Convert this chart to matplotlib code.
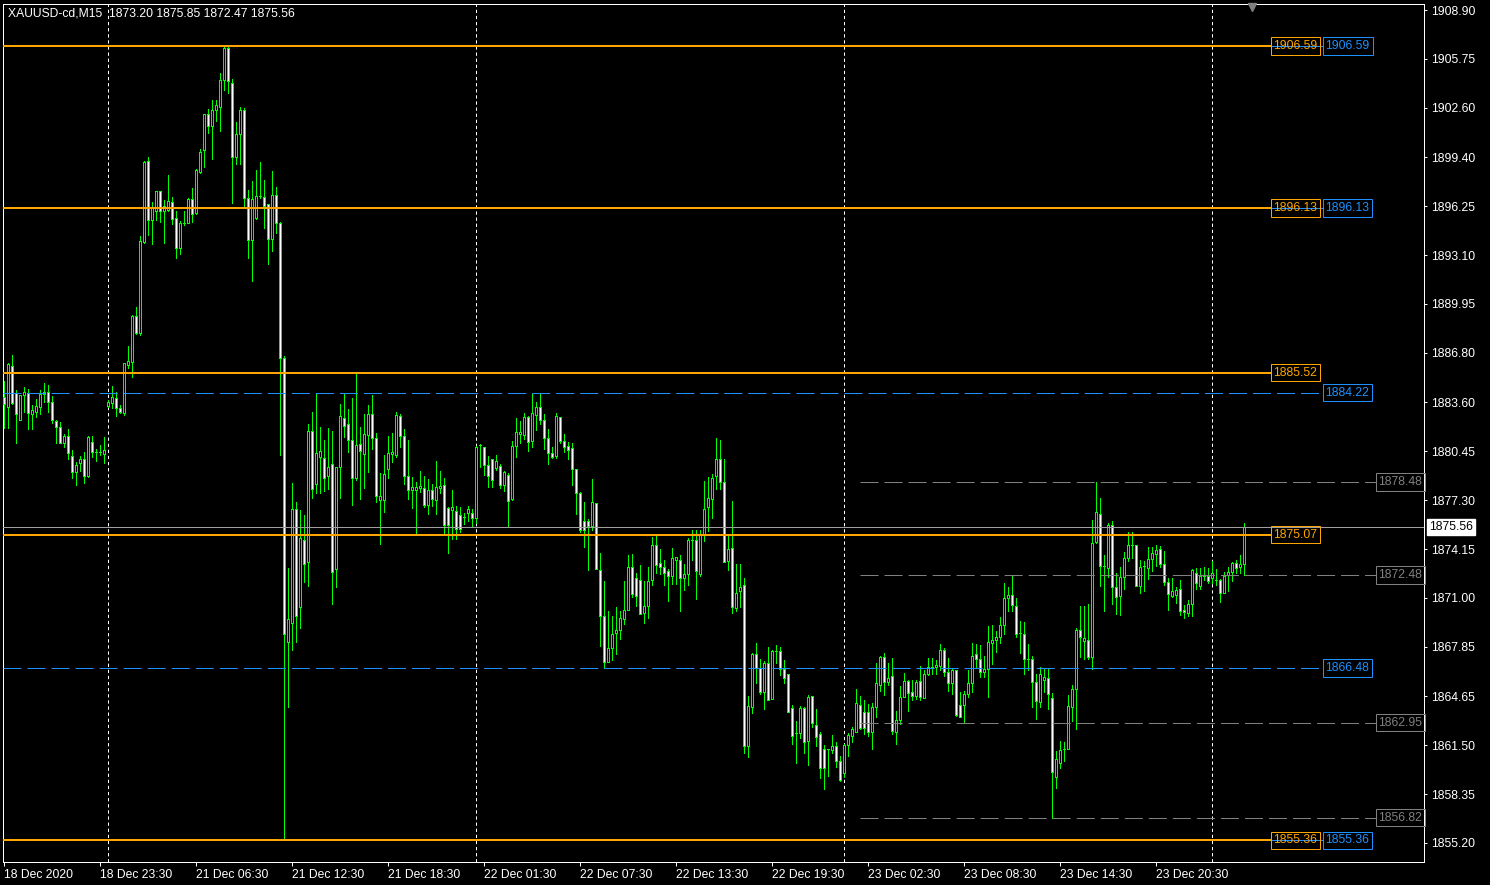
import matplotlib
matplotlib.use("Agg")
import matplotlib.pyplot as plt
from matplotlib import transforms

plt.rcParams['font.family'] = ['Liberation Sans', 'DejaVu Sans']
plt.rcParams['lines.scale_dashes'] = False

symbol = "XAUUSD-cd"
period = "M15"

# M15 bars (bar 0 = 18 Dec 2020 17:30)
opens = [
    1883.96, 1883.32, 1885.94, 1884.18, 1882.50, 1884.05, 1884.22, 1882.85, 1883.00, 1883.32,
    1884.12, 1884.25, 1883.64, 1882.41, 1881.99, 1880.99, 1881.43, 1880.14, 1879.13, 1879.67,
    1879.93, 1878.85, 1881.04, 1880.38, 1880.38, 1880.27, 1883.38, 1883.58, 1883.86, 1883.25,
    1882.93, 1886.01, 1886.22, 1889.17, 1888.09, 1893.94, 1899.15, 1895.34, 1895.94, 1897.23,
    1895.94, 1895.98, 1896.50, 1895.47, 1893.57, 1895.19, 1895.17, 1896.71, 1895.79, 1898.46,
    1899.86, 1902.18, 1901.44, 1902.46, 1902.67, 1904.37, 1906.45, 1904.18, 1899.40, 1900.89,
    1902.44, 1896.76, 1894.05, 1895.47, 1896.89, 1896.82, 1896.37, 1894.15, 1896.97, 1895.19,
    1886.44, 1868.16, 1869.41, 1876.76, 1870.38, 1874.70, 1873.32, 1881.75, 1878.37, 1880.09,
    1879.99, 1878.87, 1879.60, 1872.83, 1879.41, 1882.57, 1882.18, 1881.15, 1878.70, 1880.89,
    1880.29, 1881.47, 1882.85, 1881.28, 1877.28, 1877.28, 1879.28, 1880.29, 1880.22, 1882.70,
    1881.41, 1878.83, 1877.93, 1877.93, 1878.09, 1878.09, 1877.00, 1877.95, 1877.28, 1878.09,
    1878.25, 1876.80, 1876.67, 1876.59, 1876.33, 1876.22, 1876.44, 1876.46, 1876.18, 1880.83,
    1880.70, 1879.58, 1879.93, 1879.39, 1879.49, 1878.29, 1878.89, 1877.36, 1880.76, 1881.54,
    1881.47, 1882.65, 1881.12, 1882.78, 1883.28, 1882.44, 1881.28, 1880.31, 1880.12, 1882.63,
    1881.12, 1880.79, 1880.64, 1879.29, 1877.74, 1875.94, 1875.94, 1875.66, 1877.12, 1872.79,
    1869.82, 1866.89, 1867.75, 1868.71, 1868.91, 1869.61, 1870.19, 1872.96, 1872.31, 1872.18,
    1870.03, 1870.48, 1872.16, 1874.38, 1873.28, 1872.96, 1872.72, 1872.42, 1873.45, 1873.47,
    1872.29, 1872.57, 1874.72, 1874.76, 1872.57, 1875.15, 1876.87, 1877.38, 1878.83, 1879.93,
    1878.48, 1873.38, 1874.24, 1870.35, 1871.45, 1871.86, 1861.45, 1863.96, 1867.36, 1866.50,
    1864.93, 1866.83, 1864.48, 1867.56, 1867.56, 1866.44, 1866.12, 1863.87, 1862.27, 1862.31,
    1863.87, 1861.78, 1864.70, 1862.83, 1862.21, 1861.28, 1861.28, 1861.22, 1861.45, 1860.51,
    1859.71, 1861.50, 1862.10, 1862.35, 1864.12, 1863.61, 1863.65, 1862.32, 1863.94, 1865.37,
    1867.19, 1865.58, 1865.95, 1862.35, 1863.15, 1864.62, 1865.63, 1864.94, 1864.68, 1865.63,
    1864.55, 1866.12, 1866.57, 1866.55, 1866.59, 1867.67, 1866.23, 1865.52, 1866.33, 1864.08,
    1864.08, 1864.83, 1865.48, 1867.41, 1867.09, 1866.23, 1866.40, 1868.06, 1868.26, 1868.45,
    1869.22, 1870.96, 1871.18, 1870.45, 1868.75, 1868.70, 1867.03, 1867.09, 1865.58, 1864.30,
    1865.71, 1865.86, 1864.53, 1859.48, 1860.34, 1861.24, 1861.28, 1863.96, 1865.13, 1868.91,
    1868.24, 1868.26, 1867.17, 1874.62, 1876.38, 1873.06, 1872.95, 1875.68, 1871.68, 1871.14,
    1872.37, 1873.56, 1874.39, 1874.39, 1871.78, 1873.04, 1872.94, 1873.48, 1873.81, 1874.13,
    1873.20, 1872.00, 1871.14, 1871.17, 1871.56, 1870.23, 1870.04, 1870.59, 1872.62, 1871.78,
    1872.41, 1872.41, 1872.25, 1872.14, 1872.12, 1871.32, 1872.47, 1872.68, 1873.22, 1873.00,
    1873.20,
]
highs = [
    1884.98, 1886.15, 1886.65, 1884.39, 1884.10, 1884.59, 1884.44, 1883.43, 1883.79, 1884.39,
    1884.85, 1884.72, 1884.01, 1882.50, 1882.33, 1881.56, 1881.88, 1880.53, 1879.77, 1880.14,
    1880.41, 1881.43, 1881.43, 1880.63, 1880.85, 1881.36, 1883.75, 1884.65, 1884.29, 1883.43,
    1886.16, 1887.23, 1889.21, 1889.77, 1894.33, 1899.17, 1899.42, 1896.52, 1897.23, 1897.23,
    1896.65, 1898.26, 1896.84, 1895.94, 1895.30, 1895.94, 1896.78, 1897.42, 1898.65, 1899.94,
    1902.20, 1902.52, 1903.10, 1903.10, 1904.84, 1906.59, 1906.50, 1904.44, 1901.68, 1902.65,
    1902.57, 1897.30, 1897.87, 1898.58, 1899.10, 1897.94, 1896.37, 1898.52, 1897.49, 1895.23,
    1886.59, 1872.90, 1878.38, 1877.15, 1876.66, 1876.33, 1882.20, 1882.98, 1884.18, 1882.00,
    1881.17, 1881.93, 1881.75, 1879.43, 1883.49, 1884.18, 1883.17, 1883.88, 1885.47, 1882.00,
    1882.85, 1883.43, 1884.07, 1881.60, 1879.04, 1880.20, 1881.43, 1881.62, 1882.98, 1882.85,
    1881.88, 1881.17, 1878.80, 1878.50, 1879.17, 1878.85, 1878.65, 1878.33, 1879.82, 1879.17,
    1878.74, 1876.87, 1877.95, 1876.93, 1876.87, 1876.44, 1876.91, 1876.70, 1880.80, 1880.91,
    1880.70, 1880.14, 1879.93, 1880.18, 1879.60, 1879.17, 1879.02, 1881.10, 1882.59, 1882.40,
    1882.91, 1882.72, 1884.18, 1883.62, 1884.18, 1882.83, 1881.92, 1880.74, 1882.89, 1882.63,
    1881.56, 1881.05, 1880.96, 1879.29, 1877.83, 1877.17, 1876.08, 1878.67, 1877.12, 1873.90,
    1872.06, 1870.14, 1869.82, 1870.39, 1870.14, 1872.08, 1873.75, 1873.81, 1872.59, 1873.11,
    1872.08, 1872.98, 1874.94, 1874.99, 1874.13, 1873.47, 1872.87, 1874.22, 1873.62, 1873.75,
    1873.17, 1874.87, 1875.37, 1875.37, 1875.37, 1878.52, 1878.78, 1878.98, 1881.30, 1881.15,
    1879.93, 1875.15, 1877.24, 1873.17, 1873.21, 1872.25, 1864.65, 1867.43, 1868.07, 1867.04,
    1866.93, 1867.82, 1867.62, 1867.95, 1867.82, 1866.99, 1866.12, 1864.08, 1863.04, 1864.06,
    1863.97, 1864.72, 1864.70, 1863.84, 1862.34, 1861.50, 1861.28, 1862.14, 1861.71, 1860.81,
    1861.61, 1862.31, 1862.68, 1865.11, 1864.66, 1864.40, 1864.14, 1864.23, 1866.77, 1867.25,
    1867.43, 1866.80, 1867.11, 1863.68, 1865.30, 1866.15, 1865.69, 1865.69, 1865.69, 1866.61,
    1866.33, 1867.11, 1867.11, 1866.98, 1868.01, 1867.80, 1867.11, 1866.44, 1866.33, 1864.92,
    1864.98, 1866.33, 1868.12, 1868.01, 1867.95, 1867.24, 1869.17, 1869.23, 1868.85, 1869.76,
    1871.99, 1871.71, 1872.40, 1870.96, 1869.52, 1869.42, 1868.01, 1867.24, 1866.12, 1866.53,
    1866.40, 1866.40, 1864.85, 1861.13, 1861.77, 1861.71, 1864.74, 1865.37, 1869.04, 1870.46,
    1870.46, 1870.59, 1876.02, 1878.48, 1877.43, 1873.77, 1875.85, 1875.96, 1872.59, 1872.99,
    1873.96, 1875.25, 1875.25, 1874.39, 1873.43, 1873.38, 1874.27, 1874.25, 1874.39, 1874.35,
    1874.00, 1872.29, 1872.29, 1871.71, 1872.16, 1870.54, 1870.86, 1872.88, 1872.94, 1872.94,
    1872.99, 1872.94, 1873.37, 1872.83, 1872.20, 1872.68, 1873.00, 1873.31, 1873.43, 1873.75,
    1875.85,
]
lows = [
    1881.96, 1881.96, 1883.49, 1881.00, 1882.46, 1883.00, 1881.90, 1881.90, 1882.68, 1882.85,
    1883.64, 1883.00, 1882.29, 1880.96, 1880.96, 1880.74, 1879.93, 1878.74, 1878.29, 1879.19,
    1878.42, 1878.80, 1880.09, 1879.83, 1880.20, 1879.71, 1883.32, 1883.22, 1882.72, 1882.89,
    1882.78, 1885.79, 1885.25, 1888.00, 1887.94, 1893.88, 1894.39, 1893.83, 1895.36, 1895.25,
    1893.90, 1895.94, 1895.13, 1892.93, 1893.19, 1895.02, 1895.17, 1895.21, 1895.75, 1898.39,
    1898.78, 1900.99, 1899.31, 1901.75, 1901.12, 1903.74, 1903.57, 1896.48, 1898.99, 1898.95,
    1896.22, 1892.93, 1891.44, 1895.45, 1896.76, 1894.86, 1892.54, 1893.38, 1894.54, 1880.20,
    1855.36, 1863.97, 1867.67, 1868.16, 1869.07, 1872.03, 1871.77, 1877.45, 1877.77, 1877.77,
    1877.90, 1878.03, 1870.62, 1871.70, 1877.45, 1881.34, 1880.42, 1877.00, 1878.59, 1877.38,
    1878.09, 1879.13, 1880.61, 1877.19, 1874.48, 1876.55, 1878.74, 1879.73, 1880.09, 1880.70,
    1878.35, 1877.38, 1876.80, 1875.13, 1877.84, 1876.85, 1876.38, 1876.93, 1876.41, 1877.77,
    1875.13, 1873.90, 1874.80, 1874.80, 1875.26, 1875.75, 1875.97, 1875.64, 1875.80, 1879.45,
    1878.91, 1878.16, 1878.12, 1879.24, 1878.07, 1877.88, 1875.64, 1877.30, 1880.09, 1880.99,
    1881.23, 1880.48, 1880.74, 1881.84, 1882.22, 1880.61, 1879.64, 1880.03, 1880.05, 1880.96,
    1880.43, 1879.98, 1878.29, 1876.42, 1875.27, 1874.30, 1872.80, 1875.37, 1872.89, 1867.90,
    1866.46, 1866.89, 1866.99, 1867.38, 1868.35, 1869.32, 1870.19, 1871.06, 1870.46, 1869.96,
    1869.35, 1869.71, 1871.82, 1872.59, 1872.53, 1871.82, 1870.82, 1871.90, 1871.90, 1870.14,
    1871.49, 1871.84, 1873.47, 1870.91, 1872.42, 1874.66, 1875.32, 1876.16, 1878.05, 1878.01,
    1873.32, 1872.79, 1870.03, 1870.14, 1870.42, 1861.00, 1860.74, 1863.59, 1865.48, 1864.83,
    1863.82, 1864.44, 1864.48, 1866.77, 1866.02, 1865.54, 1863.65, 1861.58, 1860.35, 1861.94,
    1861.00, 1860.23, 1862.68, 1861.48, 1859.39, 1858.68, 1859.52, 1861.00, 1860.10, 1859.19,
    1859.45, 1860.81, 1861.71, 1862.33, 1862.53, 1862.25, 1862.10, 1861.24, 1863.32, 1864.99,
    1864.72, 1865.37, 1862.21, 1861.58, 1862.86, 1864.59, 1863.69, 1864.42, 1864.51, 1864.42,
    1864.53, 1866.01, 1866.12, 1866.12, 1866.35, 1865.95, 1865.00, 1864.83, 1863.40, 1863.33,
    1862.95, 1864.62, 1864.93, 1866.55, 1865.90, 1865.90, 1864.62, 1866.74, 1867.52, 1868.10,
    1868.66, 1870.16, 1870.16, 1868.49, 1867.46, 1866.12, 1866.33, 1863.95, 1863.20, 1863.95,
    1864.96, 1863.82, 1856.82, 1858.75, 1860.06, 1860.48, 1861.28, 1863.08, 1862.53, 1867.21,
    1867.06, 1867.06, 1866.44, 1874.52, 1871.78, 1870.16, 1872.37, 1870.61, 1869.96, 1869.90,
    1871.58, 1873.39, 1873.54, 1871.78, 1871.32, 1871.45, 1872.22, 1872.74, 1873.04, 1873.00,
    1871.86, 1870.21, 1871.08, 1870.69, 1869.90, 1869.72, 1869.85, 1869.83, 1871.58, 1871.58,
    1872.14, 1871.97, 1871.93, 1871.82, 1870.74, 1871.30, 1871.45, 1872.10, 1872.62, 1872.58,
    1872.47,
]
closes = [
    1883.49, 1886.07, 1883.54, 1882.85, 1884.07, 1884.25, 1882.89, 1883.11, 1883.36, 1884.14,
    1884.25, 1883.60, 1882.50, 1881.99, 1880.99, 1881.43, 1880.31, 1879.13, 1879.56, 1879.93,
    1878.85, 1881.34, 1880.42, 1880.38, 1880.38, 1880.53, 1883.62, 1883.96, 1883.25, 1883.00,
    1886.12, 1886.29, 1889.17, 1888.09, 1894.00, 1899.08, 1895.34, 1896.22, 1897.23, 1895.94,
    1896.26, 1896.58, 1895.40, 1893.54, 1895.17, 1895.19, 1896.71, 1895.75, 1898.59, 1899.73,
    1902.18, 1901.44, 1902.44, 1902.76, 1904.37, 1906.45, 1904.33, 1899.40, 1900.89, 1902.44,
    1896.76, 1894.05, 1896.71, 1896.89, 1896.89, 1896.28, 1894.12, 1896.97, 1895.19, 1886.44,
    1868.64, 1869.61, 1876.76, 1869.84, 1874.83, 1873.21, 1881.75, 1878.05, 1880.31, 1880.44,
    1878.70, 1879.41, 1872.70, 1879.41, 1882.72, 1882.05, 1881.15, 1878.70, 1880.83, 1880.44,
    1881.54, 1882.85, 1881.28, 1877.60, 1877.60, 1878.96, 1880.31, 1880.38, 1882.76, 1881.41,
    1878.83, 1877.93, 1878.14, 1878.18, 1878.20, 1877.00, 1877.95, 1877.38, 1878.14, 1878.22,
    1875.73, 1875.73, 1876.85, 1875.47, 1875.47, 1876.22, 1876.76, 1876.16, 1880.74, 1880.83,
    1879.54, 1878.85, 1878.59, 1879.80, 1878.29, 1879.11, 1877.25, 1880.76, 1881.67, 1881.71,
    1882.65, 1881.06, 1882.91, 1883.28, 1882.44, 1881.28, 1880.31, 1880.09, 1882.70, 1881.12,
    1880.74, 1880.55, 1879.29, 1877.74, 1875.40, 1875.40, 1875.66, 1877.17, 1872.89, 1869.80,
    1866.89, 1867.75, 1868.65, 1868.91, 1869.68, 1870.21, 1873.02, 1871.28, 1871.15, 1869.96,
    1870.46, 1872.08, 1874.38, 1873.15, 1872.96, 1872.61, 1872.42, 1873.60, 1873.62, 1872.29,
    1872.57, 1874.72, 1874.72, 1872.74, 1875.15, 1876.70, 1877.41, 1878.76, 1879.93, 1878.44,
    1873.32, 1874.18, 1870.41, 1871.34, 1871.73, 1861.45, 1864.05, 1867.36, 1866.50, 1864.93,
    1866.80, 1864.44, 1867.58, 1867.56, 1866.44, 1865.86, 1863.65, 1862.10, 1862.27, 1863.87,
    1861.71, 1864.64, 1862.96, 1862.03, 1860.00, 1860.00, 1861.28, 1861.45, 1860.48, 1859.26,
    1861.51, 1862.14, 1862.57, 1864.25, 1862.64, 1862.64, 1862.32, 1863.94, 1865.48, 1867.19,
    1865.58, 1865.86, 1862.42, 1863.15, 1864.64, 1865.63, 1864.88, 1864.68, 1865.56, 1864.62,
    1866.12, 1866.55, 1866.57, 1866.66, 1867.67, 1866.23, 1865.52, 1866.33, 1863.45, 1863.33,
    1864.83, 1865.54, 1867.24, 1867.07, 1866.23, 1866.40, 1868.16, 1868.26, 1868.45, 1869.22,
    1870.96, 1871.18, 1870.53, 1868.66, 1868.75, 1867.03, 1867.03, 1865.58, 1864.36, 1866.06,
    1865.93, 1864.83, 1859.76, 1860.60, 1861.17, 1861.24, 1864.03, 1865.11, 1868.91, 1868.50,
    1868.40, 1867.21, 1874.52, 1876.51, 1873.07, 1873.06, 1875.68, 1871.68, 1871.08, 1872.37,
    1873.56, 1874.41, 1874.39, 1871.78, 1872.96, 1873.04, 1873.48, 1873.87, 1874.06, 1873.20,
    1872.03, 1871.28, 1871.47, 1871.49, 1870.18, 1870.11, 1870.59, 1872.79, 1871.94, 1872.41,
    1872.41, 1872.08, 1872.62, 1872.14, 1871.32, 1872.41, 1872.68, 1873.22, 1872.94, 1873.20,
    1875.56,
]

time_labels = ["18 Dec 2020", "18 Dec 23:30", "21 Dec 06:30", "21 Dec 12:30", "21 Dec 18:30",
               "22 Dec 01:30", "22 Dec 07:30", "22 Dec 13:30", "22 Dec 19:30", "23 Dec 02:30",
               "23 Dec 08:30", "23 Dec 14:30", "23 Dec 20:30"]
label_bars = [0, 24, 48, 72, 96, 120, 144, 168, 192, 216, 240, 264, 288]
separator_bars = [26, 118, 210, 302]

price_ticks = [1908.90, 1905.75, 1902.60, 1899.40, 1896.25, 1893.10, 1889.95, 1886.80, 1883.60,
               1880.45, 1877.30, 1874.15, 1871.00, 1867.85, 1864.65, 1861.50, 1858.35, 1855.20]

orange_levels = [1906.59, 1896.13, 1885.52, 1875.07, 1855.36]
blue_solid_levels = [1906.59, 1896.13, 1855.36]
blue_dash_levels = [1884.22, 1866.48]
gray_levels = [1878.48, 1872.48, 1862.95, 1856.82]

assert len(opens) == len(highs) == len(lows) == len(closes)

PX = 0.72            # one pixel in points at dpi 100
GREEN = '#00FF00'
ORANGE = '#FFA500'
BLUE = '#1E90FF'
GRAY = '#808080'
FS = 8.7

bars = list(range(len(closes)))

fig = plt.figure(figsize=(14.9, 8.85), dpi=100, facecolor='black')
ax = fig.add_axes([3 / 1490, 23 / 885, 1421 / 1490, 858 / 885])
ax.set_facecolor('black')
x0, x1 = -0.33, 354.9
ax.set_xlim(x0, x1)
ax.set_ylim(1853.97, 1909.29)

# day separators
for b in separator_bars:
    ax.axvline(b, color='white', lw=PX, ls=(0, (2.4, 2.0)), zorder=1)

# candles
ax.vlines(bars, lows, highs, color=GREEN, lw=PX, antialiased=False, zorder=2)
heights = [c - o for o, c in zip(opens, closes)]
faces = ['black' if c >= o else 'white' for o, c in zip(opens, closes)]
ax.bar(bars, heights, width=0.5, bottom=opens, color=faces, edgecolor=GREEN,
       linewidth=PX, antialiased=False, zorder=3)

# horizontal levels
orange_end, blue_end = 316.7, 329.7
gray_start, gray_end = 213.9, 342.9
ax.hlines(blue_solid_levels, x0, blue_end, color=BLUE, lw=PX, zorder=4)
ax.hlines(blue_dash_levels, x0, blue_end, color=BLUE, lw=PX, ls=(0, (13, 4.3)), zorder=4)
ax.hlines(gray_levels, gray_start, gray_end, color=GRAY, lw=PX, ls=(0, (13, 4.3)), zorder=4)
ax.hlines(orange_levels, x0, orange_end, color=ORANGE, lw=2 * PX, zorder=5)
ax.axhline(closes[-1], color='#A0A0A0', lw=PX, zorder=4)


def level_box(x, y, color):
    ax.text(x, y, f"{y:.2f}", color=color, fontsize=FS, va='center', ha='left', zorder=6,
            bbox=dict(boxstyle='square,pad=0.22', fc='none', ec=color, lw=PX))


for v in orange_levels:
    level_box(317.3, v, ORANGE)
for v in blue_solid_levels + blue_dash_levels:
    level_box(330.3, v, BLUE)
for v in gray_levels:
    level_box(343.5, v, GRAY)

# axes styling
for s in ax.spines.values():
    s.set_color('white')
    s.set_linewidth(PX)

ax.yaxis.tick_right()
ax.set_yticks(price_ticks)
ax.set_yticklabels([f"{v:.2f}" for v in price_ticks])
ax.tick_params(axis='y', colors='white', length=2.2, width=PX, pad=3, labelsize=FS)
ax.set_xticks(label_bars)
ax.set_xticklabels(time_labels, ha='left')
ax.tick_params(axis='x', colors='white', length=2.9, width=PX, pad=2, labelsize=FS)

# current price tag on the price scale
trans = transforms.blended_transform_factory(ax.transAxes, ax.transData)
ax.text(1.0035, closes[-1], f"{closes[-1]:.2f}", transform=trans, color='black', fontsize=FS,
        va='center', ha='left', clip_on=False, zorder=7,
        bbox=dict(boxstyle='square,pad=0.18', fc='white', ec='white'))

# chart shift marker
ax.plot([0.879], [0.996], marker='v', color=GRAY, ms=6, transform=ax.transAxes,
        clip_on=False, zorder=7)

header = f"{symbol},{period}  {opens[-1]:.2f} {highs[-1]:.2f} {lows[-1]:.2f} {closes[-1]:.2f}"
fig.text(8 / 1490, 1 - 14 / 885, header, color='white', fontsize=FS, va='center', ha='left')

fig.savefig('out.png', dpi=100, facecolor='black')
